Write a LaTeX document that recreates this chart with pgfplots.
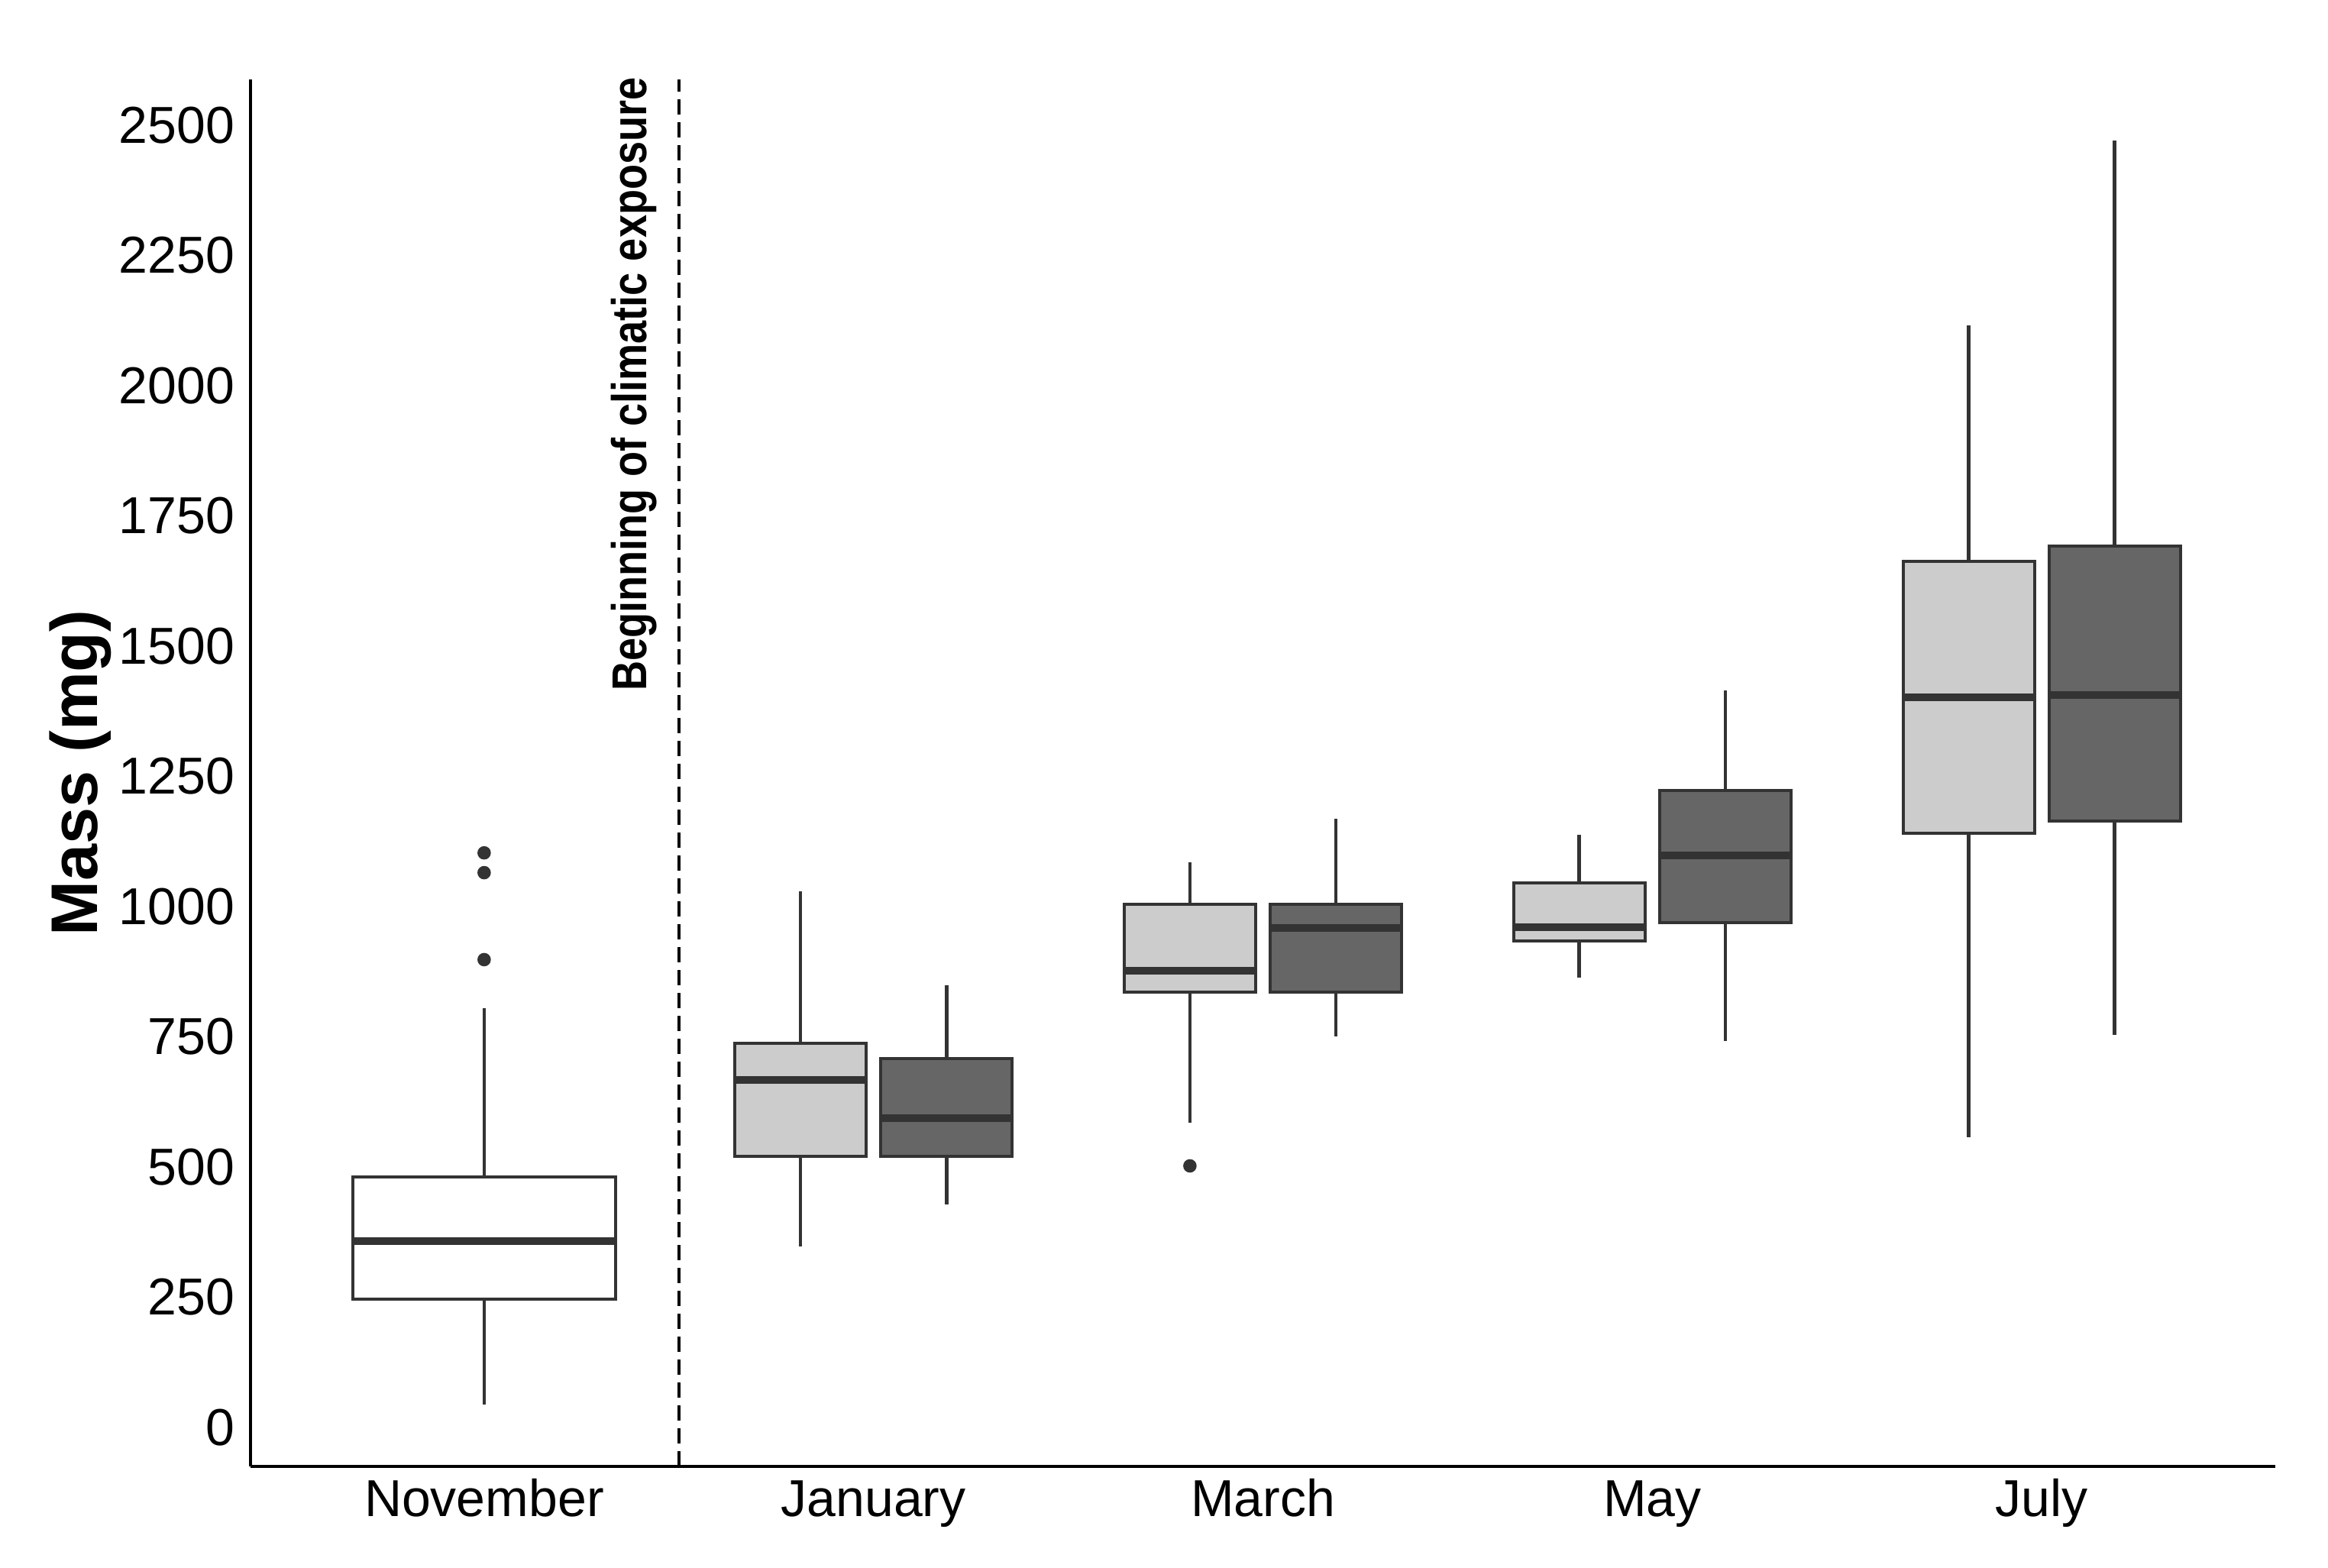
\documentclass[border=0pt]{standalone}
\usepackage{pgfplots}
\pgfplotsset{compat=1.18}
\usepackage{fontspec}
\setmainfont{Liberation Sans}
\definecolor{lightbox}{HTML}{CCCCCC}
\definecolor{darkbox}{HTML}{666666}
\definecolor{edge}{HTML}{333333}
% #1 left, #2 centre, #3 right, #4 lower whisker, #5 lower quartile, #6 median, #7 upper quartile, #8 upper whisker, #9 fill
\newcommand{\bx}[9]{%
  \addplot[edge, line width=1.15pt] coordinates {(#2,#4) (#2,#5)};
  \addplot[edge, line width=1.15pt] coordinates {(#2,#7) (#2,#8)};
  \addplot[draw=edge, fill=#9, line width=1pt] coordinates {(#1,#5) (#3,#5) (#3,#7) (#1,#7)} -- cycle;
  \addplot[edge, line width=2.5pt] coordinates {(#1,#6) (#3,#6)};
}
\begin{document}
\begin{tikzpicture}
\useasboundingbox (-82pt,-33.25pt) rectangle (680pt,480pt);
\begin{axis}[
  at={(0,0)}, anchor=south west,
  scale only axis, width=662.75pt, height=454pt,
  xmin=0.4, xmax=5.6, ymin=-75, ymax=2588,
  axis lines=left, axis line style={-, line width=1pt, black},
  xtick={1,2,3,4,5}, xticklabels={November,January,March,May,July},
  ytick={0,250,500,750,1000,1250,1500,1750,2000,2250,2500},
  yticklabels={0,250,500,750,1000,1250,1500,1750,2000,2250,2500},
  major tick length=0pt,
  tick label style={font=\fontsize{17pt}{20pt}\selectfont},
  xticklabel style={anchor=base, yshift=-16.5pt, inner sep=0pt},
  yticklabel style={anchor=east, xshift=-5pt, inner sep=0pt},
  ylabel={Mass (mg)},
  ylabel style={at={(axis description cs:-0.0758,0.5)}, anchor=base, font=\fontsize{21.6pt}{24pt}\selectfont\bfseries},
  clip=false,
]
% November
\bx{0.6625}{1}{1.3375}{44}{246}{358}{481}{805}{white}
% January
\bx{1.64375}{1.8125}{1.98125}{347}{521}{667}{738}{1029}{lightbox}
\bx{2.01875}{2.1875}{2.35625}{428}{521}{593}{708}{849}{darkbox}
% March
\bx{2.64375}{2.8125}{2.98125}{585}{836}{876}{1004}{1085}{lightbox}
\bx{3.01875}{3.1875}{3.35625}{751}{836}{959}{1004}{1169}{darkbox}
% May
\bx{3.64375}{3.8125}{3.98125}{863}{934}{960}{1045}{1137}{lightbox}
\bx{4.01875}{4.1875}{4.35625}{742}{969}{1098}{1223}{1415}{darkbox}
% July
\bx{4.64375}{4.8125}{4.98125}{557}{1141}{1401}{1662}{2116}{lightbox}
\bx{5.01875}{5.1875}{5.35625}{754}{1164}{1406}{1692}{2470}{darkbox}
% outliers
\addplot[only marks, mark=*, mark size=2pt, edge] coordinates {(1,1103) (1,1065) (1,898) (2.8125,502)};
% reference line
\addplot[black, line width=1pt, dash pattern=on 5pt off 2.5pt] coordinates {(1.5,-75) (1.5,2588)};
\node[rotate=90, anchor=base east, inner sep=0pt, font=\fontsize{16pt}{18pt}\selectfont\bfseries] at (axis cs:1.418,2593) {\scalebox{0.846}[1]{Beginning of climatic exposure}};
\end{axis}
\end{tikzpicture}
\end{document}
